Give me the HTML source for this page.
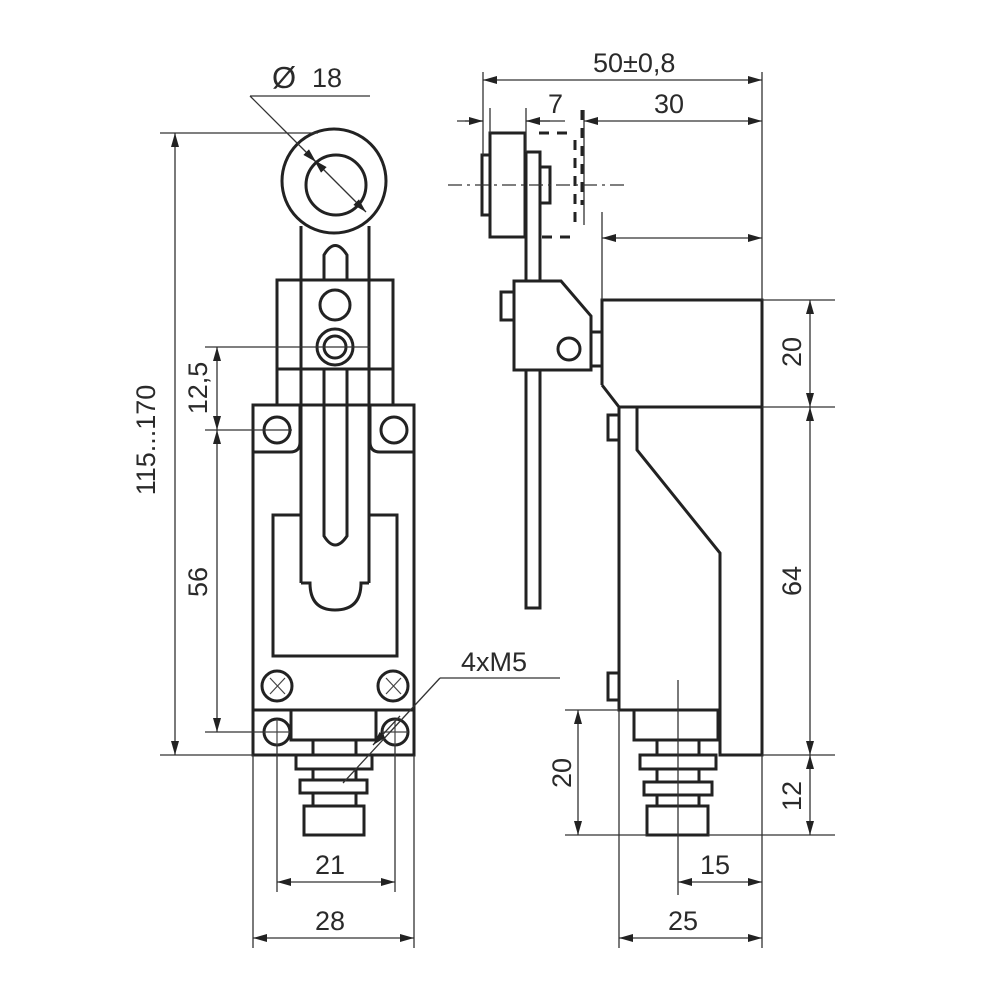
<!DOCTYPE html>
<html><head><meta charset="utf-8"><style>
html,body{margin:0;padding:0;background:#fff;}
svg{display:block;}
text{font-family:"Liberation Sans",sans-serif;font-size:27px;fill:#2a2a2a;}
</style></head><body>
<svg width="1000" height="1000" viewBox="0 0 1000 1000" xmlns="http://www.w3.org/2000/svg">
<defs>
<marker id="a" markerWidth="14" markerHeight="8" refX="14" refY="4" orient="auto" markerUnits="userSpaceOnUse">
<path d="M0,0 L14,4 L0,8 Z" fill="#222"/></marker>
</defs>
<g fill="none" stroke="#222" stroke-width="3">
<circle cx="334" cy="181" r="52"/>
<circle cx="336" cy="185" r="30"/>
<line x1="301" y1="226" x2="301" y2="583"/>
<line x1="369" y1="226" x2="369" y2="583"/>
<path d="M324,280 V255 Q335,236 347,255 V280"/>
<path d="M324,405 V536 Q335,554 347,536 V405"/>
<rect x="277" y="280" width="116" height="89"/>
<circle cx="335" cy="305" r="15"/>
<circle cx="335" cy="347" r="18"/>
<circle cx="335" cy="347" r="11"/>
<line x1="277" y1="369" x2="277" y2="405"/>
<line x1="393" y1="369" x2="393" y2="405"/>
<line x1="324" y1="369" x2="324" y2="405"/>
<line x1="347" y1="369" x2="347" y2="405"/>
<rect x="253" y="405" width="161" height="350"/>
<path d="M253,452 H290 Q300,452 300,442 V405"/>
<path d="M414,452 H380 Q370,452 370,442 V405"/>
<circle cx="277" cy="430" r="13"/>
<circle cx="394" cy="430" r="13"/>
<path d="M301,515 H273 V656 H397 V515 H369"/>
<path d="M301,583 H310 Q310,610 335,610 Q361,610 361,583 H369"/>
<circle cx="277" cy="686" r="15"/>
<circle cx="393" cy="686" r="15"/>
<line x1="253" y1="710" x2="414" y2="710"/>
<circle cx="277" cy="732" r="13"/>
<circle cx="395" cy="732" r="13"/>
<rect x="291" y="710" width="85" height="30"/>
<rect x="313" y="740" width="43" height="15"/>
<rect x="296" y="755" width="76" height="14"/>
<rect x="313" y="769" width="43" height="11"/>
<rect x="300" y="780" width="67" height="13"/>
<rect x="313" y="793" width="43" height="13"/>
<rect x="304" y="806" width="60" height="29"/>
<rect x="490" y="133" width="35" height="104"/>
<rect x="482" y="155" width="8" height="60"/>
<path d="M526,281 V152 H540 V281"/>
<rect x="540" y="167" width="10" height="36"/>
<path d="M514,281 H561 L591,316 V370 H514 Z"/>
<rect x="501" y="292" width="13" height="28"/>
<circle cx="569" cy="349" r="11"/>
<rect x="591" y="332" width="11" height="34"/>
<path d="M526,370 V608 H540 V370"/>
<path d="M602,385 V300 H762 V755 H720 V710 H619 V407 L602,385"/>
<line x1="619" y1="407" x2="762" y2="407"/>
<path d="M637,407 V450 L720,553 V710"/>
<rect x="608" y="415" width="11" height="25"/>
<rect x="608" y="673" width="11" height="27"/>
<rect x="634" y="710" width="84" height="30"/>
<rect x="657" y="740" width="42" height="15"/>
<rect x="640" y="755" width="76" height="14"/>
<rect x="657" y="769" width="42" height="13"/>
<rect x="644" y="782" width="68" height="13"/>
<rect x="657" y="795" width="42" height="11"/>
<rect x="647" y="806" width="61" height="29"/>
</g>
<g fill="none" stroke="#222" stroke-width="3" stroke-dasharray="10,8">
<path d="M539,133 H567"/>
<path d="M575,140 V222"/>
<path d="M582,110 V205"/>
<path d="M542,237 H578"/>
</g>
<line x1="448" y1="185" x2="625" y2="185" stroke="#333" stroke-width="1.3" stroke-dasharray="14,5,3,5"/>
<g fill="none" stroke="#444" stroke-width="1.2">
<path d="M270,678 L285,694 M285,678 L270,694 M386,678 L401,694 M401,678 L386,694"/>
<path d="M264,732 H290 M277,719 V745 M382,732 H408 M395,719 V745"/>
</g>
<g fill="none" stroke="#333" stroke-width="1.3">
<line x1="250" y1="96" x2="370" y2="96"/>
<line x1="250" y1="96" x2="300" y2="146"/>
<line x1="160" y1="133" x2="318" y2="133"/>
<line x1="205" y1="347" x2="370" y2="347"/>
<line x1="205" y1="430" x2="292" y2="430"/>
<line x1="205" y1="732" x2="264" y2="732"/>
<line x1="160" y1="755" x2="253" y2="755"/>
<line x1="253" y1="755" x2="253" y2="948"/>
<line x1="414" y1="755" x2="414" y2="948"/>
<line x1="277" y1="745" x2="277" y2="892"/>
<line x1="395" y1="745" x2="395" y2="892"/>
<line x1="440" y1="678" x2="560" y2="678"/>
<line x1="440" y1="678" x2="343" y2="783"/>
<line x1="483" y1="72" x2="483" y2="155"/>
<line x1="762" y1="72" x2="762" y2="300"/>
<line x1="490" y1="108" x2="490" y2="133"/>
<line x1="526" y1="108" x2="526" y2="152"/>
<line x1="584" y1="110" x2="584" y2="225"/>
<line x1="602" y1="212" x2="602" y2="300"/>
<line x1="762" y1="300" x2="835" y2="300"/>
<line x1="762" y1="407" x2="835" y2="407"/>
<line x1="762" y1="755" x2="835" y2="755"/>
<line x1="708" y1="835" x2="835" y2="835"/>
<line x1="565" y1="835" x2="647" y2="835"/>
<line x1="565" y1="710" x2="619" y2="710"/>
<line x1="619" y1="710" x2="619" y2="948"/>
<line x1="762" y1="755" x2="762" y2="948"/>
<line x1="678" y1="680" x2="678" y2="895"/>
<line x1="457" y1="121" x2="483" y2="121"/>
<line x1="526" y1="121" x2="565" y2="121"/>
</g>
<g fill="none" stroke="#333" stroke-width="1.3" marker-end="url(#a)">
<line x1="300" y1="146" x2="316" y2="162"/>
<line x1="340" y1="186" x2="366" y2="212"/>
<line x1="340" y1="186" x2="314" y2="160"/>
<line x1="175" y1="444" x2="175" y2="133"/>
<line x1="175" y1="444" x2="175" y2="755"/>
<line x1="217" y1="390" x2="217" y2="347"/>
<line x1="217" y1="390" x2="217" y2="430"/>
<line x1="217" y1="580" x2="217" y2="430"/>
<line x1="217" y1="580" x2="217" y2="732"/>
<line x1="336" y1="882" x2="277" y2="882"/>
<line x1="336" y1="882" x2="395" y2="882"/>
<line x1="333" y1="938" x2="253" y2="938"/>
<line x1="333" y1="938" x2="414" y2="938"/>
<line x1="400" y1="716" x2="373" y2="745"/>
<line x1="620" y1="80" x2="483" y2="80"/>
<line x1="620" y1="80" x2="762" y2="80"/>
<line x1="465" y1="121" x2="483" y2="121"/>
<line x1="550" y1="121" x2="526" y2="121"/>
<line x1="670" y1="121" x2="584" y2="121"/>
<line x1="670" y1="121" x2="762" y2="121"/>
<line x1="680" y1="238" x2="602" y2="238"/>
<line x1="680" y1="238" x2="762" y2="238"/>
<line x1="810" y1="353" x2="810" y2="300"/>
<line x1="810" y1="353" x2="810" y2="407"/>
<line x1="810" y1="580" x2="810" y2="407"/>
<line x1="810" y1="580" x2="810" y2="755"/>
<line x1="810" y1="795" x2="810" y2="755"/>
<line x1="810" y1="795" x2="810" y2="835"/>
<line x1="578" y1="772" x2="578" y2="710"/>
<line x1="578" y1="772" x2="578" y2="835"/>
<line x1="720" y1="882" x2="678" y2="882"/>
<line x1="720" y1="882" x2="762" y2="882"/>
<line x1="690" y1="938" x2="619" y2="938"/>
<line x1="690" y1="938" x2="762" y2="938"/>
</g>
<text x="272" y="88" style="font-size:31px">Ø</text>
<text x="312" y="87">18</text>
<text x="593" y="72">50±0,8</text>
<text x="548" y="113">7</text>
<text x="654" y="113">30</text>
<text x="461" y="671">4xM5</text>
<text x="315" y="874">21</text>
<text x="315" y="930">28</text>
<text x="700" y="874">15</text>
<text x="668" y="930">25</text>
<text transform="translate(155,440) rotate(-90)" text-anchor="middle">115...170</text>
<text transform="translate(207,388) rotate(-90)" text-anchor="middle">12,5</text>
<text transform="translate(207,582) rotate(-90)" text-anchor="middle">56</text>
<text transform="translate(571,773) rotate(-90)" text-anchor="middle">20</text>
<text transform="translate(801,352) rotate(-90)" text-anchor="middle">20</text>
<text transform="translate(801,581) rotate(-90)" text-anchor="middle">64</text>
<text transform="translate(801,796) rotate(-90)" text-anchor="middle">12</text>
</svg>
</body></html>
